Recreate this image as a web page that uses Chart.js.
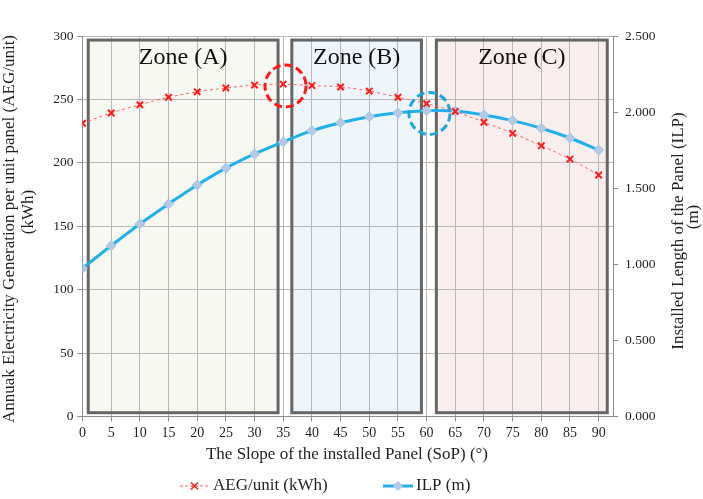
<!DOCTYPE html>
<html><head><meta charset="utf-8">
<script src="https://cdn.jsdelivr.net/npm/chart.js@4/dist/chart.umd.min.js"></script>
<style>html,body{margin:0;padding:0;background:#fff}</style>
</head><body>
<canvas id="c" width="703" height="499"></canvas>
<script>
// ---- data ----
const sop = [0,5,10,15,20,25,30,35,40,45,50,55,60,65,70,75,80,85,90];
const aegUnit = [231.2,239.3,245.8,251.7,256.0,259.0,261.3,262.0,260.9,259.8,256.6,251.7,246.6,240.5,232.0,223.3,213.5,203.0,190.4];
const ilp = [0.974,1.122,1.265,1.396,1.521,1.632,1.725,1.804,1.878,1.930,1.970,1.996,2.009,2.007,1.981,1.944,1.894,1.830,1.751];
const leftTicks = [0,50,100,150,200,250,300];
const rightTicks = [0,0.5,1.0,1.5,2.0,2.5];
const zoneNames = ['Zone (A)','Zone (B)','Zone (C)'];
const zoneStart = [1.0, 36.5, 61.7];
const zoneEnd = [34.1, 59.1, 91.5];
const zoneTop = 296.8, zoneBottom = 3;
const zoneLabelY = 283;
const highlightX = [35.4, 60.5];
const highlightY = [260.6, 238.9];
const seriesNames = ['AEG/unit (kWh)','ILP (m)'];

const SERIF = '"Liberation Serif","Times New Roman",serif';
const TXT = '#1f1f1f';
const zoneFills = ['#f7f8f1','#eff6fb','#f9eeee'];
const highlightColors = ['#ff1a1a','#1ea6e0'];

const framePlugin = {
  id: 'frame',
  beforeDraw(chart) {
    const {ctx} = chart; const x = chart.scales.x, y = chart.scales.y;
    ctx.save();
    ctx.fillStyle = '#fff'; ctx.fillRect(0,0,chart.width,chart.height);
    zoneNames.forEach((n,i) => {
      const l = x.getPixelForValue(zoneStart[i]), r = x.getPixelForValue(zoneEnd[i]);
      const t = y.getPixelForValue(zoneTop), b = y.getPixelForValue(zoneBottom);
      ctx.fillStyle = zoneFills[i]; ctx.fillRect(l,t,r-l,b-t);
    });
    ctx.restore();
  },
  beforeDatasetsDraw(chart) {
    const {ctx} = chart; const x = chart.scales.x, y = chart.scales.y;
    ctx.save();
    ctx.strokeStyle = '#666'; ctx.lineWidth = 3;
    zoneNames.forEach((n,i) => {
      const l = x.getPixelForValue(zoneStart[i]), r = x.getPixelForValue(zoneEnd[i]);
      const t = y.getPixelForValue(zoneTop), b = y.getPixelForValue(zoneBottom);
      ctx.strokeRect(l,t,r-l,b-t);
    });
    ctx.restore();
  },
  afterDatasetsDraw(chart) {
    const {ctx} = chart; const x = chart.scales.x, y = chart.scales.y;
    ctx.save();
    ctx.font = '24px ' + SERIF; ctx.fillStyle = '#111';
    ctx.textAlign = 'center'; ctx.textBaseline = 'middle';
    zoneNames.forEach((n,i) => {
      const cx = (x.getPixelForValue(zoneStart[i]) + x.getPixelForValue(zoneEnd[i]))/2;
      ctx.fillText(n, cx, y.getPixelForValue(zoneLabelY));
    });
    ctx.lineWidth = 3; ctx.setLineDash([8,4]);
    highlightX.forEach((hx,i) => {
      ctx.strokeStyle = highlightColors[i];
      ctx.beginPath();
      ctx.ellipse(x.getPixelForValue(hx), y.getPixelForValue(highlightY[i]), 20.5, 21, 0, 0, Math.PI*2);
      ctx.stroke();
    });
    ctx.restore();
  },
  afterDraw(chart) {
    const {ctx} = chart;
    ctx.save();
    ctx.fillStyle = TXT; ctx.textAlign = 'center'; ctx.textBaseline = 'middle';
    ctx.font = '17px ' + SERIF;
    // left title
    ctx.save(); ctx.translate(10, 229); ctx.rotate(-Math.PI/2);
    ctx.fillText('Annuak Electricity Generation per unit panel (AEG/unit)', 0, 0); ctx.restore();
    ctx.save(); ctx.translate(28.5, 212); ctx.rotate(-Math.PI/2);
    ctx.fillText('(kWh)', 0, 0); ctx.restore();
    // right title
    ctx.save(); ctx.translate(679, 231); ctx.rotate(-Math.PI/2);
    ctx.fillText('Installed Length of the Panel (ILP)', 0, 0); ctx.restore();
    ctx.save(); ctx.translate(694, 217); ctx.rotate(-Math.PI/2);
    ctx.fillText('(m)', 0, 0); ctx.restore();
    // x title
    ctx.fillText('The Slope of the installed Panel (SoP) (°)', 347, 455);
    // legend
    const ly = 486;
    ctx.textAlign = 'left';
    // AEG
    ctx.strokeStyle = '#ff5a5a'; ctx.lineWidth = 1; ctx.setLineDash([3,2]);
    ctx.beginPath(); ctx.moveTo(180, ly); ctx.lineTo(208, ly); ctx.stroke();
    ctx.setLineDash([]);
    ctx.strokeStyle = '#ff1a1a'; ctx.lineWidth = 1.5;
    ctx.beginPath(); ctx.moveTo(191, ly-3.5); ctx.lineTo(198, ly+3.5); ctx.moveTo(198, ly-3.5); ctx.lineTo(191, ly+3.5); ctx.stroke();
    ctx.fillText(seriesNames[0], 213, ly);
    // ILP
    ctx.strokeStyle = '#22b0ea'; ctx.lineWidth = 3;
    ctx.beginPath(); ctx.moveTo(383, ly); ctx.lineTo(413, ly); ctx.stroke();
    ctx.fillStyle = '#b7c9e2'; ctx.strokeStyle = '#9cc8ee'; ctx.lineWidth = 1;
    ctx.beginPath(); ctx.moveTo(398, ly-4.5); ctx.lineTo(402.5, ly); ctx.lineTo(398, ly+4.5); ctx.lineTo(393.5, ly); ctx.closePath(); ctx.fill(); ctx.stroke();
    ctx.fillStyle = TXT;
    ctx.fillText(seriesNames[1], 416, ly);
    ctx.restore();
  }
};

new Chart(document.getElementById('c'), {
  type: 'line',
  data: {
    datasets: [
      {
        label: seriesNames[0],
        data: sop.map((s,i) => ({x: s, y: aegUnit[i]})),
        yAxisID: 'y',
        borderColor: '#ff6464', borderWidth: 1, borderDash: [3,3],
        pointStyle: 'crossRot', pointRadius: 4.5, pointBorderColor: '#ff1a1a', pointBorderWidth: 2,
        pointBackgroundColor: '#ff1a1a', tension: 0.35, order: 1
      },
      {
        label: seriesNames[1],
        data: sop.map((s,i) => ({x: s, y: ilp[i]})),
        yAxisID: 'y2',
        borderColor: '#22b0ea', borderWidth: 3,
        pointStyle: 'rectRot', pointRadius: 5, pointBackgroundColor: '#b7c9e2', pointBorderColor: '#9cc8ee',
        pointBorderWidth: 1, tension: 0.35, order: 2
      }
    ]
  },
  options: {
    responsive: false, animation: false, devicePixelRatio: 1,
    layout: {padding: {top: 36, left: 0, right: 0, bottom: 0}},
    plugins: {legend: {display: false}, tooltip: {enabled: false}},
    scales: {
      x: {
        type: 'linear', position: 'bottom', min: 0, max: 92.5,
        ticks: {stepSize: 5, includeBounds: false, autoSkip: false, maxRotation: 0, color: TXT,
                font: {family: SERIF, size: 14}, padding: 3},
        grid: {color: '#b8b8b8', tickLength: 5, tickColor: '#8c8c8c'},
        border: {color: '#8c8c8c'},
        afterFit: s => { s.height = 82.5; }
      },
      y: {
        position: 'left', min: 0, max: 300,
        afterBuildTicks: s => { s.ticks = leftTicks.map(v => ({value: v})); },
        ticks: {color: TXT, font: {family: SERIF, size: 13.5}, padding: 4},
        grid: {color: '#b8b8b8', tickLength: 5, tickColor: '#8c8c8c'},
        border: {color: '#8c8c8c'},
        afterFit: s => { s.width = 82.5; }
      },
      y2: {
        position: 'right', min: 0, max: 2.5,
        afterBuildTicks: s => { s.ticks = rightTicks.map(v => ({value: v})); },
        ticks: {color: TXT, font: {family: SERIF, size: 13.5}, padding: 7, callback: v => Number(v).toFixed(3)},
        grid: {drawOnChartArea: false, tickLength: 5, tickColor: '#8c8c8c'},
        border: {color: '#8c8c8c'},
        afterFit: s => { s.width = 90; }
      }
    }
  },
  plugins: [framePlugin]
});
</script>
</body></html>
